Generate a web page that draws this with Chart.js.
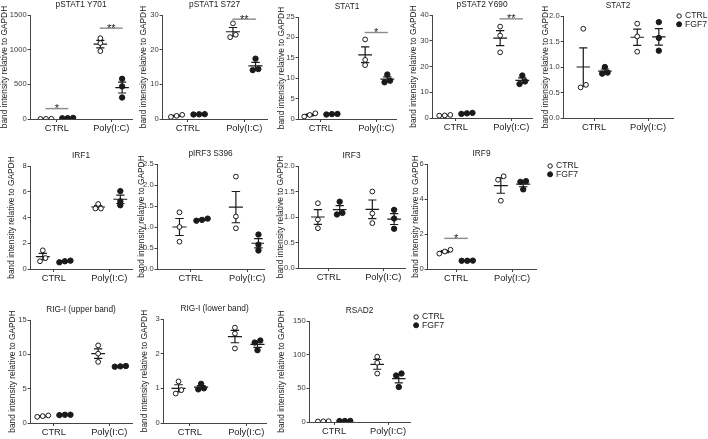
<!DOCTYPE html>
<html>
<head>
<meta charset="utf-8">
<script src="https://cdn.jsdelivr.net/npm/chart.js@4/dist/chart.umd.min.js"></script>
<style>
  body { margin: 0; background: #fff; width: 708px; height: 439px; position: relative; overflow: hidden; }
  canvas { position: absolute; }
</style>
</head>
<body>
<script>
// x groups and the two treatments
const categories = ['CTRL', 'Poly(I:C)'];
const seriesNames = ['CTRL', 'FGF7'];
const yAxisTitle = 'band intensity relative to GAPDH';

const panelNames = ['pSTAT1 Y701', 'pSTAT1 S727', 'STAT1', 'pSTAT2 Y690', 'STAT2',
  'IRF1', 'pIRF3 S396', 'IRF3', 'IRF9',
  'RIG-I (upper band)', 'RIG-I (lower band)', 'RSAD2'];

// replicates, order: CTRL/CTRL, CTRL/FGF7, Poly(I:C)/CTRL, Poly(I:C)/FGF7
const pSTAT1_Y701 = [[2, 3, 1], [12, 16, 10], [1165, 1095, 980], [580, 470, 310]];
const pSTAT1_S727 = [[0.6, 1.2, 0.9], [1.3, 1.4, 1.35], [27.6, 24.3, 23.6], [17.4, 14.4, 14.1]];
const STAT1 = [[1.4, 0.6, 1.0], [1.2, 1.1, 1.25], [19.5, 14.5, 13.2], [10.9, 9.4, 9.0]];
const pSTAT2_Y690 = [[1.0, 1.2, 0.9], [2.0, 1.6, 1.8], [35.5, 32.0, 25.5], [16.5, 14.2, 13.2]];
const STAT2 = [[1.75, 0.65, 0.60], [1.0, 0.89, 0.87], [1.85, 1.60, 1.30], [1.88, 1.57, 1.32]];
const IRF1 = [[1.45, 0.85, 0.6], [0.6, 0.65, 0.52], [5.05, 4.7, 4.7], [6.05, 5.25, 4.95]];
const pIRF3_S396 = [[1.35, 1.0, 0.65], [1.2, 1.15, 1.17], [2.2, 1.25, 0.97], [0.82, 0.58, 0.44]];
const IRF3 = [[1.27, 0.95, 0.78], [1.30, 1.08, 1.05], [1.50, 1.07, 0.88], [1.14, 0.97, 0.77]];
const IRF9 = [[1.1, 1.0, 0.88], [0.48, 0.47, 0.47], [5.3, 5.1, 3.9], [5.02, 4.98, 4.55]];
const RIGI_upper = [[1.0, 0.9, 1.1], [1.15, 1.2, 1.2], [11.3, 10.1, 8.9], [8.3, 8.2, 8.25]];
const RIGI_lower = [[1.2, 0.95, 0.85], [1.13, 1.0, 0.97], [2.75, 2.58, 2.15], [2.38, 2.32, 2.1]];
const RSAD2 = [[1, 1.2, 0.8], [1.5, 1.4, 1.6], [97, 88, 72], [72, 69, 52]];

const values = [pSTAT1_Y701, pSTAT1_S727, STAT1, pSTAT2_Y690, STAT2,
  IRF1, pIRF3_S396, IRF3, IRF9, RIGI_upper, RIGI_lower, RSAD2];

// y tick labels per panel
const yTicks = [
  ['0', '500', '1000', '1500'],
  ['0', '10', '20', '30'],
  ['0', '5', '10', '15', '20', '25'],
  ['0', '10', '20', '30', '40'],
  ['0.0', '0.5', '1.0', '1.5', '2.0'],
  ['0', '2', '4', '6', '8'],
  ['0.0', '0.5', '1.0', '1.5', '2.0', '2.5'],
  ['0.0', '0.5', '1.0', '1.5', '2.0'],
  ['0', '2', '4', '6'],
  ['0', '5', '10', '15'],
  ['0', '1', '2', '3'],
  ['0', '50', '100', '150']
];

// significance marks: [group, height, label]
const sigMarks = [
  [[0, 150, '*'], [1, 1310, '**']],
  [[1, 28.8, '**']],
  [[1, 21.2, '*']],
  [[1, 38.5, '**']],
  [], [], [], [],
  [[0, 1.75, '*']],
  [], [], []
];

// page layout: axis left, axis right, plot top, plot bottom, CTRL x, Poly x, y-title x
const layout = [
  [30, 133, 15, 119, 57, 112, 5],
  [162, 268, 15, 119, 188, 245, 144],
  [298, 397, 17, 119, 321, 377, 282],
  [432, 533, 15, 118, 456, 512, 414],
  [563, 673, 16, 118, 594, 648, 546],
  [30, 133, 166, 269, 54, 110, 12],
  [157, 265, 164, 269, 191, 248, 142],
  [298, 406, 166, 268, 329, 384, 281],
  [427, 536, 164, 269, 456, 512, 416],
  [30, 133, 320, 423, 54, 110, 13],
  [163, 267, 319, 423, 190, 247, 145],
  [309, 410, 321, 422, 334, 388, 282]
];
const legendAt = { 4: [679, 16], 8: [550, 166], 11: [416, 317] };

const font = '"Liberation Sans", Arial, sans-serif';
const ink = '#1a1a1a';

// spread overlapping replicates sideways, like a column scatter
function spread(vals, thr) {
  const idx = vals.map((v, i) => i).sort((a, b) => vals[a] - vals[b]);
  const off = vals.map(() => 0);
  let cluster = [idx[0]];
  const flush = () => cluster.forEach((k, j) => off[k] = j - (cluster.length - 1) / 2);
  for (let j = 1; j < idx.length; j++) {
    if (vals[idx[j]] - vals[idx[j - 1]] < thr) cluster.push(idx[j]);
    else { flush(); cluster = [idx[j]]; }
  }
  flush();
  return off;
}

function meanSem(vals) {
  const n = vals.length;
  const m = vals.reduce((a, b) => a + b, 0) / n;
  const sd = Math.sqrt(vals.reduce((a, b) => a + (b - m) * (b - m), 0) / (n - 1));
  return [m, sd / Math.sqrt(n)];
}

const extras = {
  id: 'extras',
  afterDraw(chart, args, opts) {
    const { ctx, chartArea, scales: { x, y } } = chart;
    ctx.save();
    ctx.fillStyle = '#222';
    ctx.font = '8.3px ' + font;
    ctx.textAlign = 'center';
    ctx.textBaseline = 'middle';
    ctx.fillText(opts.title, (chartArea.left + chartArea.right) / 2, chartArea.top - 10);

    opts.sig.forEach(([g, h, label]) => {
      const xc = 1 + 2 * g;
      const py = y.getPixelForValue(h);
      ctx.strokeStyle = '#8a8a8a';
      ctx.lineWidth = 1.4;
      ctx.beginPath();
      ctx.moveTo(x.getPixelForValue(xc - 0.42), py);
      ctx.lineTo(x.getPixelForValue(xc + 0.42), py);
      ctx.stroke();
      ctx.fillStyle = ink;
      ctx.font = '11px ' + font;
      ctx.textBaseline = 'alphabetic';
      ctx.fillText(label, x.getPixelForValue(xc), py + 3.5);
    });

    if (opts.legend) {
      const [lx, ly] = opts.legend;
      seriesNames.forEach((name, i) => {
        const yy = ly + i * 8.3;
        ctx.beginPath();
        ctx.arc(lx, yy, i === 0 ? 2.2 : 2.5, 0, Math.PI * 2);
        ctx.fillStyle = i === 0 ? '#fff' : ink;
        ctx.fill();
        ctx.strokeStyle = ink;
        ctx.lineWidth = 1;
        ctx.stroke();
        ctx.fillStyle = '#222';
        ctx.font = '8.6px ' + font;
        ctx.textAlign = 'left';
        ctx.textBaseline = 'middle';
        ctx.fillText(name, lx + 6, yy);
      });
    }
    ctx.restore();
  }
};

values.forEach((groups, p) => {
  const [L, R, T, B, cx, px, tx] = layout[p];
  const ticks = yTicks[p];
  const yMax = parseFloat(ticks[ticks.length - 1]);
  const u = (px - cx) / 2;
  const xMin = 1 - (cx - L) / u;
  const xMax = 3 + (R - px) / u;

  const padTop = 16, xH = 20, padBottom = 2;
  const canvasLeft = tx - 5.1;
  const yW = L - canvasLeft;
  const legend = legendAt[p] ? [legendAt[p][0] - canvasLeft, legendAt[p][1] - (T - padTop)] : null;
  const padRight = legend ? 708 - R : 4;

  const canvas = document.createElement('canvas');
  canvas.width = Math.round(yW + (R - L) + padRight);
  canvas.height = padTop + (B - T) + xH + padBottom;
  canvas.style.left = canvasLeft + 'px';
  canvas.style.top = (T - padTop) + 'px';
  document.body.appendChild(canvas);

  const thr = 3.6 / (B - T) * yMax;
  const bars = [];
  const datasets = [];
  groups.forEach((vals, k) => {
    const x0 = 1 + 2 * Math.floor(k / 2) + (k % 2 === 0 ? -0.4 : 0.4);
    const [m, s] = meanSem(vals);
    bars.push({ x: x0 - 0.25, y: m }, { x: x0 + 0.25, y: m }, { x: x0, y: null },
      { x: x0, y: m - s }, { x: x0, y: m + s }, { x: x0, y: null },
      { x: x0 - 0.15, y: m + s }, { x: x0 + 0.15, y: m + s }, { x: x0, y: null },
      { x: x0 - 0.15, y: m - s }, { x: x0 + 0.15, y: m - s }, { x: x0, y: null });
    const off = spread(vals, thr);
    const open = k % 2 === 0;
    datasets.push({
      label: seriesNames[k % 2],
      data: vals.map((v, i) => ({ x: x0 + off[i] * 0.2, y: v })),
      pointRadius: open ? 2.4 : 2.7,
      pointBorderWidth: 1,
      backgroundColor: open ? '#fff' : ink,
      borderColor: ink,
      order: 1
    });
  });
  datasets.unshift({
    label: 'mean ± SEM',
    data: bars,
    showLine: true,
    spanGaps: false,
    pointRadius: 0,
    borderColor: ink,
    borderWidth: 1.2,
    order: 2
  });

  new Chart(canvas, {
    type: 'scatter',
    data: { datasets },
    options: {
      responsive: false,
      animation: false,
      devicePixelRatio: 1,
      events: [],
      layout: { padding: { left: 0, top: padTop, right: padRight, bottom: padBottom } },
      plugins: {
        legend: { display: false },
        tooltip: { enabled: false },
        extras: { title: panelNames[p], sig: sigMarks[p], legend }
      },
      scales: {
        x: {
          type: 'linear',
          min: xMin,
          max: xMax,
          afterBuildTicks: s => { s.ticks = [{ value: 1 }, { value: 3 }]; },
          afterFit: s => { s.height = xH; s.paddingLeft = 0; s.paddingRight = 0; },
          ticks: {
            callback: (v, i) => categories[i],
            color: '#222',
            font: { family: font, size: 9.3 },
            padding: 1,
            maxRotation: 0
          },
          grid: { drawOnChartArea: false, drawTicks: true, tickLength: 3, color: '#444' },
          border: { display: true, color: '#444', width: 1 }
        },
        y: {
          min: 0,
          max: yMax,
          afterBuildTicks: s => { s.ticks = ticks.map(t => ({ value: parseFloat(t) })); },
          afterFit: s => { s.width = yW; },
          ticks: {
            callback: (v, i) => ticks[i],
            color: '#3a3a3a',
            font: { family: font, size: 7.6 },
            padding: 1,
            autoSkip: false
          },
          grid: { drawOnChartArea: false, drawTicks: true, tickLength: 2.5, color: '#444' },
          border: { display: true, color: '#444', width: 1 },
          title: {
            display: true,
            text: yAxisTitle,
            color: '#222',
            font: { family: font, size: 8.4 },
            padding: 0
          }
        }
      }
    },
    plugins: [extras]
  });
});
</script>
</body>
</html>
